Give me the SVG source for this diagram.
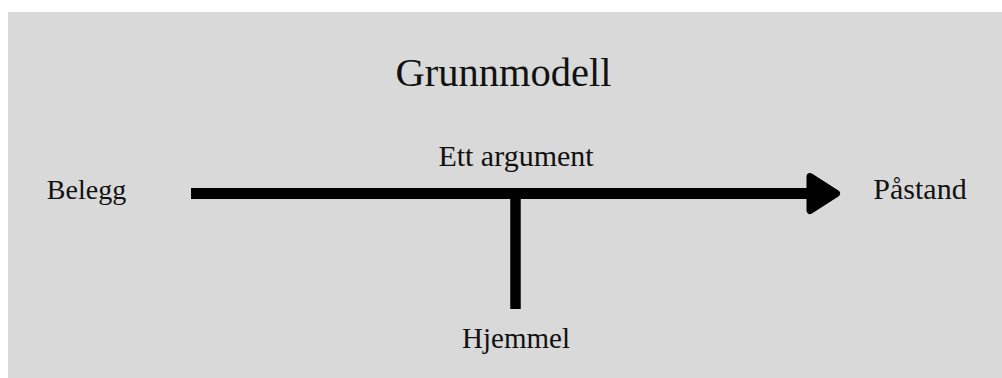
<svg xmlns="http://www.w3.org/2000/svg" width="1002" height="378" viewBox="0 0 1002 378">
<style>
text{font-family:"Liberation Serif","Times New Roman",serif;fill:#111;text-anchor:middle}
.lbl{font-size:29px}
.title{font-size:40.5px}
.conn{stroke:#000;fill:none}
</style>
<rect x="0" y="0" width="1002" height="378" fill="#ffffff"/>
<rect x="8" y="12" width="994" height="366" fill="#d9d9d9"/>
<g id="title"><text class="title" x="503.5" y="86">Grunnmodell</text></g>
<g id="connectors">
<line class="conn" x1="191" y1="193.5" x2="812" y2="193.5" stroke-width="11"/>
<polygon points="810,176.5 836.5,193.5 810,210.5" fill="#000" stroke="#000" stroke-width="7" stroke-linejoin="round"/>
<line class="conn" x1="515.5" y1="193.5" x2="515.5" y2="309" stroke-width="10.5"/>
</g>
<g id="belegg"><text class="lbl" x="86.5" y="199" style="font-size:28px">Belegg</text></g>
<g id="pastand"><text class="lbl" x="920" y="199" style="font-size:30px">Påstand</text></g>
<g id="argument"><text class="lbl" x="516" y="166" style="font-size:30px">Ett argument</text></g>
<g id="hjemmel"><text class="lbl" x="516" y="348">Hjemmel</text></g>
</svg>
